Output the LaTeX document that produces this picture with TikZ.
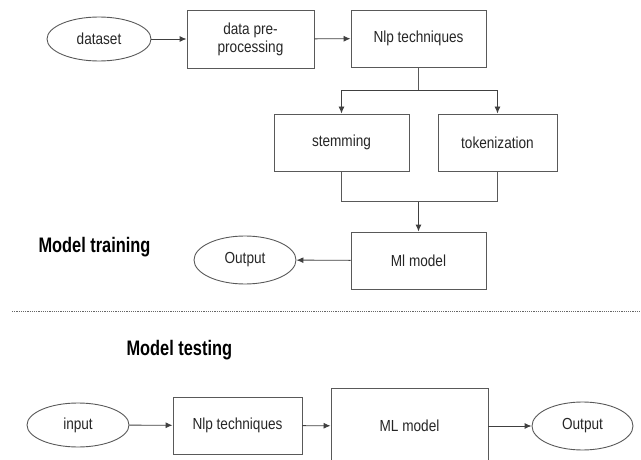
\documentclass[tikz,border=0pt]{standalone}
\usepackage{fontspec}
\setmainfont{Liberation Sans}
\newfontfamily\nodefont[FakeStretch=0.85]{Liberation Sans}
\newfontfamily\headfont[FakeStretch=0.78]{Liberation Sans}
\usepackage{tikz}
\usetikzlibrary{arrows.meta,positioning,shapes.geometric,calc}

\begin{document}
\begin{tikzpicture}[
  x=1pt, y=-1pt,
  every node/.style={font=\nodefont\fontsize{16}{18}\selectfont, text=black!85},
  blk/.style={draw=black!65, line width=0.9pt, rectangle, minimum width=135pt, minimum height=57pt, align=center, inner sep=0pt},
  term/.style={draw=black!65, line width=0.9pt, ellipse, minimum width=103pt, minimum height=46pt, inner sep=0pt},
  head/.style={font=\headfont\bfseries\fontsize{21}{24}\selectfont, text=black},
  arr/.style={-{Latex[length=7pt,width=6pt]}, line width=0.9pt, draw=black!75},
  ln/.style={line width=0.9pt, draw=black!65},
]

%% ── Canvas ───────────────────────────────────────────────────────────────
\clip (0,0) rectangle (641,460);

%% ── Model training ───────────────────────────────────────────────────────
\node[term, minimum width=104pt, minimum height=44pt] (dataset) at (99,39) {dataset};
\node[blk, minimum width=127pt, minimum height=58pt] (prep) at (250.5,39) {data pre-\\processing};
\node[blk] (nlp) at (418.5,38.5) {Nlp techniques};

\node[blk] (stem) at (341.5,142.5) {stemming};
\node[blk, minimum width=119pt] (tok) at (497.5,142.5) {tokenization};

\node[blk] (ml) at (418.5,260.5) {Ml model};
\node[term, minimum width=102pt, minimum height=48pt] (out) at (245,260) {Output};

\node[head, anchor=west] (train) at (35,247) {Model training};

%% Forward chain
\draw[arr] (dataset) -- (prep);
\draw[arr] (prep) -- (nlp);

%% Split into the two techniques
\coordinate (split) at ($(nlp.south)+(0,23)$);
\draw[ln] (nlp.south) -- (split);
\draw[arr] (split) -| (stem.north);
\draw[arr] (split) -| (tok.north);

%% Merge into the model
\coordinate (merge) at ($(ml.north)+(0,-30)$);
\draw[ln] (stem.south) |- (merge);
\draw[ln] (tok.south) |- (merge);
\draw[arr] (merge) -- (ml.north);

\draw[arr] (ml) -- (out);

%% ── Separator ────────────────────────────────────────────────────────────
\coordinate (sepL) at (12,311);
\coordinate (sepR) at (641,311);
\draw[black!60, line width=0.8pt, dash pattern=on 1.2pt off 1pt] (sepL) -- (sepR);

%% ── Model testing ────────────────────────────────────────────────────────
\node[head, anchor=west] (test) at (123,350) {Model testing};

\node[term, minimum width=102pt, minimum height=44pt] (input) at (78,425) {input};
\node[blk, minimum width=129pt] (nlpt) at (237.5,425.5) {Nlp techniques};
\node[blk, minimum width=157pt, minimum height=76pt] (mlt) at (409.5,426) {ML model};
\node[term, minimum width=101pt, minimum height=48pt] (outt) at (582.5,426) {Output};

\draw[arr] (input) -- (nlpt);
\draw[arr] (nlpt) -- (mlt);
\draw[arr] (mlt) -- (outt);

\end{tikzpicture}
\end{document}
